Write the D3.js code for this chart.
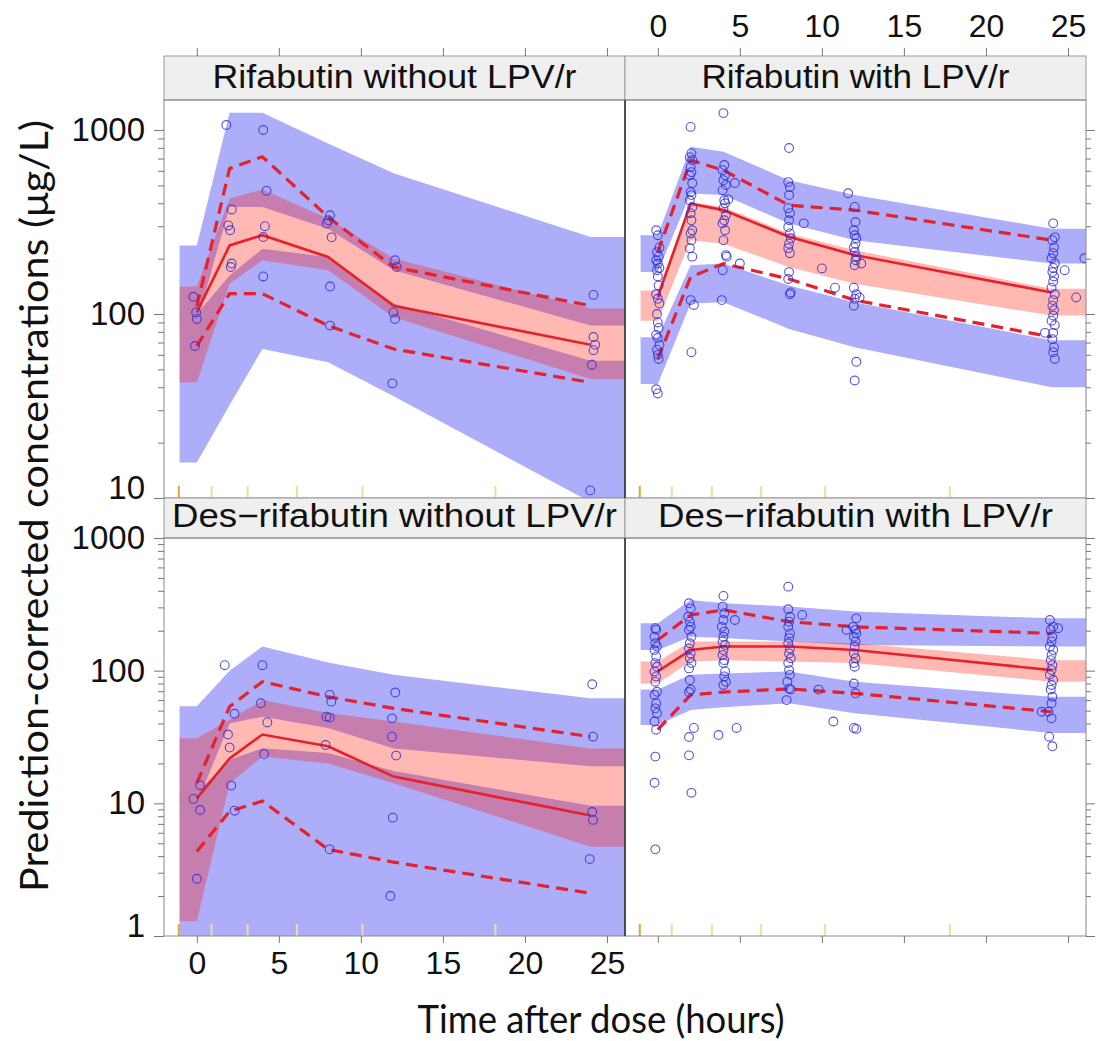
<!DOCTYPE html>
<html>
<head>
<meta charset="utf-8">
<script src="https://cdn.jsdelivr.net/npm/d3@7"></script>
<style>
  body { margin: 0; background: #fff; }
</style>
</head>
<body>
<svg id="chart" width="1097" height="1041"></svg>
<script>
// nominal bin times (hours) used by the VPC bands and percentile lines
const binTimes = [0, 2, 4, 8, 12, 24]
const xTicks = [0, 5, 10, 15, 20, 25]
const leftBinEdges = [-1.1, 0.9, 3.1, 6.1, 10.1, 18.2]
const rightBinEdges = [-1.1, 0.85, 3.3, 6.3, 10.2, 17.8]
const topYTicks = [10, 100, 1000]
const bottomYTicks = [1, 10, 100, 1000]

// Rifabutin without LPV/r
const rifNo95Hi = [236, 1242, 1242, 845, 583, 262]
const rifNo95Lo = [90, 382, 382, 291, 173, 86.5]
const rifNoMedHi = [141, 425, 475, 330, 200, 107]
const rifNoMedLo = [42.5, 146, 196, 173, 96, 44.4]
const rifNo5Hi = [100, 162, 226, 204, 114, 55.8]
const rifNo5Lo = [15.6, 32, 64.6, 54.6, 35.7, 9.5]
const rifNoP50 = [102, 236, 268, 204, 111, 68]
const rifNoP95 = [110, 618, 716, 337, 180, 111]
const rifNoP5 = [67, 129, 129, 86.5, 64.5, 42.5]
const rifNoObs = [
  [1.8, 1065], [4.05, 1000], [4.25, 467], [2.13, 370], [1.92, 303], [2.03, 285], [4.15, 300],
  [4.05, 262], [2.13, 188], [2.07, 180], [4.05, 160], [-0.21, 124], [-0.04, 102], [0.0, 94],
  [-0.11, 67], [8.12, 344], [8.02, 323], [7.92, 310], [8.22, 261], [8.12, 141], [8.12, 86.5],
  [12.08, 196], [12.18, 180], [11.98, 102], [12.08, 94], [11.92, 42], [24.18, 127], [24.18, 75],
  [24.28, 68], [24.18, 63.6], [24.08, 53], [23.98, 11]
]

// Rifabutin with LPV/r
const rifLpv95Hi = [268, 811, 762, 534, 443, 291]
const rifLpv95Lo = [169, 452, 443, 310, 252, 188]
const rifLpvMedHi = [134, 406, 382, 274, 222, 137]
const rifLpvMedLo = [92, 252, 241, 180, 146, 98]
const rifLpv5Hi = [74.8, 184, 188, 143, 116, 72]
const rifLpv5Lo = [41.7, 114, 116, 83, 66, 40]
const rifLpvP50 = [124, 398, 367, 263, 209, 131]
const rifLpvP95 = [217, 686, 605, 390, 367, 252]
const rifLpvP5 = [57, 159, 188, 155, 119, 75]
const rifLpvObs = [
  [-0.1, 285], [0.0, 268], [0.1, 230], [-0.05, 217], [0.05, 205], [-0.1, 196], [0.0, 188],
  [0.1, 178], [-0.05, 173], [0.0, 160], [0.05, 143], [-0.1, 128], [0.0, 121], [0.1, 114],
  [-0.05, 100], [0.0, 90], [0.05, 84], [-0.1, 77], [0.0, 74], [0.1, 68], [-0.05, 64],
  [0.0, 60], [0.05, 57], [-0.1, 39], [0.0, 37],
  [2.0, 1040], [2.05, 748], [1.95, 712], [2.1, 686], [2.0, 630], [2.05, 590], [1.95, 568],
  [2.1, 515], [2.0, 460], [2.05, 443], [1.95, 415], [2.1, 381], [2.0, 353], [2.05, 323],
  [2.1, 285], [2.0, 274], [2.05, 252], [1.95, 228], [2.1, 205], [2.0, 119], [2.2, 112], [2.05, 62],
  [4.0, 1236], [4.05, 645], [3.95, 605], [4.1, 568], [4.0, 534], [4.15, 502], [3.95, 471],
  [4.05, 415], [4.1, 400], [4.0, 376], [4.15, 344], [4.05, 323], [3.95, 311], [4.1, 285],
  [4.0, 252], [4.15, 209], [4.2, 205], [3.95, 173], [3.9, 119], [4.7, 515], [4.3, 420], [5.0, 188],
  [8.0, 798], [7.95, 521], [8.05, 490], [8.0, 443], [7.95, 376], [8.05, 353], [8.0, 323],
  [7.95, 297], [8.05, 274], [8.1, 258], [8.0, 241], [7.95, 228], [8.05, 214], [8.0, 169],
  [7.95, 155], [8.1, 131], [8.05, 128], [8.9, 311], [10.0, 177], [10.8, 139],
  [11.6, 453], [12.0, 382], [12.05, 316], [11.95, 285], [12.0, 268], [12.1, 258], [12.05, 241],
  [11.95, 230], [12.0, 217], [12.1, 205], [12.05, 196], [12.0, 184], [11.95, 139], [12.1, 128],
  [12.0, 121], [11.95, 111], [12.1, 55], [12.0, 43.5], [12.4, 188], [12.3, 123],
  [24.1, 311], [24.2, 261], [24.05, 252], [24.15, 230], [24.1, 214], [24.0, 201], [24.2, 188],
  [24.1, 178], [24.05, 169], [24.15, 160], [24.1, 150], [24.0, 139], [24.2, 128], [24.1, 119],
  [24.05, 111], [24.15, 105], [24.1, 98], [24.0, 92], [24.2, 87], [24.1, 79], [24.05, 73],
  [24.15, 66], [24.1, 62], [24.2, 57], [24.8, 173], [25.5, 123], [26.0, 201], [23.6, 79]
]

// Des-rifabutin without LPV/r
const desNo95Hi = [54, 100, 152, 115, 93, 62]
const desNo95Lo = [10, 40, 45, 37, 25.9, 19]
const desNoMedHi = [31, 42.6, 60, 48, 41.4, 25.9]
const desNoMedLo = [1.29, 14.2, 22.5, 20, 14.2, 4.7]
const desNo5Hi = [12, 21.3, 26, 24, 17.5, 9.6]
const desNo5Lo = [0.5, 0.5, 0.5, 0.5, 0.5, 0.5]
const desNoP50 = [10.9, 21.8, 33, 26.9, 15.9, 8.1]
const desNoP95 = [14.2, 53.6, 82.6, 63.6, 52, 31.8]
const desNoP5 = [4.33, 8.7, 10.4, 4.5, 3.6, 2.1]
const desNoObs = [
  [1.7, 110], [4.0, 110], [3.9, 56.8], [4.3, 40.7], [2.3, 47.3], [1.9, 33], [2.0, 26.3],
  [4.1, 23.5], [2.1, 13.6], [2.3, 8.8], [0.2, 13.7], [-0.2, 10.8], [0.2, 8.9], [0.0, 2.7],
  [8.1, 65.7], [8.2, 58.4], [7.9, 45], [8.1, 44.3], [7.85, 27.5], [8.1, 4.5],
  [12.1, 68.4], [11.9, 43.7], [11.9, 31.8], [12.15, 22.9], [11.95, 7.8], [11.8, 2.0],
  [24.1, 79], [24.15, 31.8], [24.1, 8.6], [24.15, 7.5], [23.95, 3.8]
]

// Des-rifabutin with LPV/r
const desLpv95Hi = [228, 341, 322, 304, 279, 248]
const desLpv95Lo = [143, 180, 176, 166, 156, 152]
const desLpvMedHi = [117, 166, 166, 166, 161, 120]
const desLpvMedLo = [80, 117, 120, 117, 114, 82.6]
const desLpv5Hi = [72, 93, 95, 98.7, 82.6, 63.6]
const desLpv5Lo = [39, 50.6, 53, 56.8, 47.8, 33.9]
const desLpvP50 = [98.7, 143, 152, 152, 143, 101]
const desLpvP95 = [170, 263, 287, 234, 214, 191]
const desLpvP5 = [35.9, 65.7, 69, 72.9, 67.5, 49]
const desLpvObs = [
  [-0.15, 209], [-0.1, 203], [-0.2, 180], [-0.15, 161], [-0.05, 152], [-0.2, 143], [-0.1, 128],
  [-0.15, 114], [-0.05, 107], [-0.2, 98.7], [-0.1, 90.5], [-0.15, 82.6], [-0.05, 69.3],
  [-0.2, 65.7], [-0.1, 56.8], [-0.15, 52], [-0.05, 47.8], [-0.2, 41.4], [-0.1, 35.9],
  [-0.15, 22.5], [-0.2, 14.3], [-0.15, 4.5],
  [1.9, 322], [2.0, 295], [1.85, 255], [1.95, 234], [2.0, 214], [1.9, 203], [2.05, 180],
  [1.95, 161], [1.9, 147], [2.0, 135], [1.95, 124], [2.05, 114], [1.9, 104], [1.95, 85],
  [2.0, 72], [1.9, 69], [2.2, 37], [1.9, 31.6], [1.9, 23], [2.05, 12],
  [4.0, 366], [3.95, 304], [4.05, 271], [4.0, 241], [3.9, 214], [4.05, 197], [4.0, 180],
  [3.95, 166], [4.1, 156], [4.0, 143], [3.95, 131], [4.05, 120], [4.0, 114], [4.1, 98.7],
  [4.05, 90.5], [4.15, 82.6], [4.0, 78], [4.7, 241], [4.8, 37], [3.7, 32.7],
  [7.95, 430], [7.95, 290], [8.05, 255], [8.0, 234], [7.95, 214], [8.05, 191], [8.0, 176],
  [7.95, 161], [8.05, 147], [8.0, 135], [8.1, 124], [7.95, 114], [8.0, 101], [8.05, 93],
  [7.9, 82.6], [8.0, 73.5], [8.1, 72], [7.85, 60], [8.8, 263], [9.8, 72], [10.7, 41.4],
  [12.1, 248], [11.9, 214], [12.05, 203], [12.1, 191], [11.95, 180], [12.05, 166], [12.0, 152],
  [11.95, 135], [12.05, 124], [11.95, 114], [12.0, 107], [11.95, 80], [12.05, 67.5],
  [11.95, 37], [12.1, 36.4], [11.5, 203],
  [23.9, 241], [24.1, 214], [23.95, 203], [24.05, 180], [24.0, 166], [23.9, 152], [24.1, 143],
  [24.0, 131], [23.95, 120], [24.05, 110], [24.0, 101], [23.9, 93], [24.1, 85], [24.0, 78],
  [23.95, 72], [24.05, 63.6], [24.0, 56.8], [23.8, 49], [24.0, 43.7], [23.85, 31.8],
  [24.05, 26.9], [24.4, 209], [23.4, 49]
]

const panels = [
  { title: "Rifabutin without LPV/r", col: 0, row: 0, hi95: rifNo95Hi, lo95: rifNo95Lo, medHi: rifNoMedHi, medLo: rifNoMedLo, hi5: rifNo5Hi, lo5: rifNo5Lo, p50: rifNoP50, p95: rifNoP95, p5: rifNoP5, obs: rifNoObs },
  { title: "Rifabutin with LPV/r", col: 1, row: 0, hi95: rifLpv95Hi, lo95: rifLpv95Lo, medHi: rifLpvMedHi, medLo: rifLpvMedLo, hi5: rifLpv5Hi, lo5: rifLpv5Lo, p50: rifLpvP50, p95: rifLpvP95, p5: rifLpvP5, obs: rifLpvObs },
  { title: "Des\u2212rifabutin without LPV/r", col: 0, row: 1, hi95: desNo95Hi, lo95: desNo95Lo, medHi: desNoMedHi, medLo: desNoMedLo, hi5: desNo5Hi, lo5: desNo5Lo, p50: desNoP50, p95: desNoP95, p5: desNoP5, obs: desNoObs },
  { title: "Des\u2212rifabutin with LPV/r", col: 1, row: 1, hi95: desLpv95Hi, lo95: desLpv95Lo, medHi: desLpvMedHi, medLo: desLpvMedLo, hi5: desLpv5Hi, lo5: desLpv5Lo, p50: desLpvP50, p95: desLpvP95, p5: desLpvP5, obs: desLpvObs }
]

// layout
const colLeft = [164, 625]
const colWidth = 461
const xDomain = [-2, 26.1]
const bandStart = -1.05
const rows = [
  { stripTop: 56, plotTop: 100, plotBottom: 498, domain: [10, 1456], ticks: topYTicks },
  { stripTop: 498, plotTop: 538, plotBottom: 936, domain: [1, 1000], ticks: bottomYTicks }
]
const stripWidths = [364, 308, 445, 395]

const blue = "#adadfa"
const red = "#e5222b"
const tickColor = "#777"
const labelFont = "'Liberation Sans', Arial, sans-serif"
const titleFont = "Lato, 'Open Sans', sans-serif"

const svg = d3.select("#chart")

const xScales = colLeft.map(l => d3.scaleLinear().domain(xDomain).range([l, l + colWidth]))
const yScales = rows.map(r => d3.scaleLog().domain(r.domain).range([r.plotBottom, r.plotTop]))

panels.forEach((p, i) => {
  const r = rows[p.row]
  const x = xScales[p.col]
  const y = yScales[p.row]
  const left = colLeft[p.col]

  svg.append("clipPath").attr("id", "clip" + i)
    .append("rect")
      .attr("x", left).attr("y", r.plotTop)
      .attr("width", colWidth).attr("height", r.plotBottom - r.plotTop)

  const g = svg.append("g").attr("clip-path", `url(#clip${i})`)

  const bandPts = (hi, lo) => [
    { t: bandStart, hi: hi[0], lo: lo[0] },
    ...binTimes.map((t, k) => ({ t, hi: hi[k], lo: lo[k] })),
    { t: xDomain[1], hi: hi[hi.length - 1], lo: lo[lo.length - 1] }
  ]
  const area = d3.area()
    .x(d => x(d.t))
    .y0(d => y(d.lo))
    .y1(d => y(d.hi))

  g.append("path").attr("d", area(bandPts(p.hi95, p.lo95))).attr("fill", blue)
  g.append("path").attr("d", area(bandPts(p.hi5, p.lo5))).attr("fill", blue)
  g.append("path").attr("d", area(bandPts(p.medHi, p.medLo)))
    .attr("fill", "rgb(255,20,0)").attr("fill-opacity", 0.3)

  // bin edges rug
  const edges = p.col === 0 ? leftBinEdges : rightBinEdges
  g.selectAll("line.rug")
    .data(edges)
    .enter()
    .append("line")
      .attr("x1", d => x(d)).attr("x2", d => x(d))
      .attr("y1", r.plotBottom - 12).attr("y2", r.plotBottom)
      .attr("stroke", (d, k) => k === 0 ? "#e0a630" : "#efdca0")
      .attr("stroke-width", 2)

  const line = d3.line().x(d => x(d[0])).y(d => y(d[1]))
  const zip = vals => binTimes.map((t, k) => [t, vals[k]])

  g.append("path").attr("d", line(zip(p.p95)))
    .attr("fill", "none").attr("stroke", red).attr("stroke-width", 3.2)
    .attr("stroke-dasharray", "12,7")
  g.append("path").attr("d", line(zip(p.p5)))
    .attr("fill", "none").attr("stroke", red).attr("stroke-width", 3.2)
    .attr("stroke-dasharray", "12,7")
  g.append("path").attr("d", line(zip(p.p50)))
    .attr("fill", "none").attr("stroke", red).attr("stroke-width", 2.6)

  g.selectAll("circle")
    .data(p.obs)
    .enter()
    .append("circle")
      .attr("cx", d => x(d[0]))
      .attr("cy", d => y(d[1]))
      .attr("r", 4.4)
      .attr("fill", "none")
      .attr("stroke", "#2b2bd6")
      .attr("stroke-opacity", 0.8)
      .attr("stroke-width", 1.1)

  // strip
  svg.append("rect")
    .attr("x", left).attr("y", r.stripTop)
    .attr("width", colWidth).attr("height", r.plotTop - r.stripTop)
    .attr("fill", "#efefef").attr("stroke", "#999").attr("stroke-width", 1)
  svg.append("text")
    .attr("x", left + colWidth / 2)
    .attr("y", r.plotTop - (p.row === 0 ? 12 : 11))
    .attr("text-anchor", "middle")
    .attr("font-family", labelFont)
    .attr("font-size", 33)
    .attr("textLength", stripWidths[i])
    .attr("lengthAdjust", "spacingAndGlyphs")
    .attr("fill", "#111")
    .text(p.title)

  // frame
  svg.append("rect")
    .attr("x", left).attr("y", r.plotTop)
    .attr("width", colWidth).attr("height", r.plotBottom - r.plotTop)
    .attr("fill", "none").attr("stroke", "#888").attr("stroke-width", 1)
})

// divider between columns
rows.forEach(r => {
  svg.append("line")
    .attr("x1", colLeft[1]).attr("x2", colLeft[1])
    .attr("y1", r.plotTop).attr("y2", r.plotBottom)
    .attr("stroke", "#222").attr("stroke-width", 1.3)
})

const styleAxis = (sel, showLabels, size) => {
  sel.select(".domain").remove()
  sel.selectAll(".tick line").attr("stroke", tickColor)
  sel.selectAll(".tick text")
    .attr("font-family", labelFont)
    .attr("font-size", size || 31)
    .attr("fill", "#111")
    .style("display", showLabels ? null : "none")
}

// y axes: labelled on the left, plain ticks on the right
rows.forEach((r, ri) => {
  const y = yScales[ri]
  const minor = y.ticks().filter(v => !r.ticks.includes(v))

  const leftMajor = svg.append("g")
    .attr("transform", `translate(${colLeft[0]},0)`)
    .call(d3.axisLeft(y).tickValues(r.ticks).tickSize(10).tickPadding(9).tickFormat(d3.format("d")))
  styleAxis(leftMajor, true, 33)
  leftMajor.selectAll(".tick text")
    .filter(d => d === r.domain[0])
    .attr("dy", "0em")

  const leftMinor = svg.append("g")
    .attr("transform", `translate(${colLeft[0]},0)`)
    .call(d3.axisLeft(y).tickValues(minor).tickSize(6).tickFormat(""))
  styleAxis(leftMinor, false)

  const rightX = colLeft[1] + colWidth
  const rightMajor = svg.append("g")
    .attr("transform", `translate(${rightX},0)`)
    .call(d3.axisRight(y).tickValues(r.ticks).tickSize(9).tickFormat(""))
  styleAxis(rightMajor, false)
  const rightMinor = svg.append("g")
    .attr("transform", `translate(${rightX},0)`)
    .call(d3.axisRight(y).tickValues(minor).tickSize(5).tickFormat(""))
  styleAxis(rightMinor, false)
})

// x axes: labels on top-right and bottom-left only
xScales.forEach((x, ci) => {
  const top = svg.append("g")
    .attr("transform", `translate(0,${rows[0].stripTop})`)
    .call(d3.axisTop(x).tickValues(xTicks).tickSize(8).tickPadding(11))
  styleAxis(top, ci === 1, 32)

  const bottom = svg.append("g")
    .attr("transform", `translate(0,${rows[1].plotBottom})`)
    .call(d3.axisBottom(x).tickValues(xTicks).tickSize(7).tickPadding(8))
  styleAxis(bottom, ci === 0, 32)
})

// axis titles, stretched to the length they take in the figure
svg.append("text")
  .attr("x", 601).attr("y", 1033)
  .attr("text-anchor", "middle")
  .attr("font-family", titleFont)
  .attr("font-size", 38)
  .attr("textLength", 367)
  .attr("lengthAdjust", "spacingAndGlyphs")
  .attr("fill", "#111")
  .text("Time after dose (hours)")

svg.append("text")
  .attr("transform", "translate(48,506) rotate(-90)")
  .attr("text-anchor", "middle")
  .attr("font-family", titleFont)
  .attr("font-size", 38)
  .attr("textLength", 772)
  .attr("lengthAdjust", "spacingAndGlyphs")
  .attr("fill", "#111")
  .text("Prediction-corrected concentrations (\u03bcg/L)")
</script>
</body>
</html>
